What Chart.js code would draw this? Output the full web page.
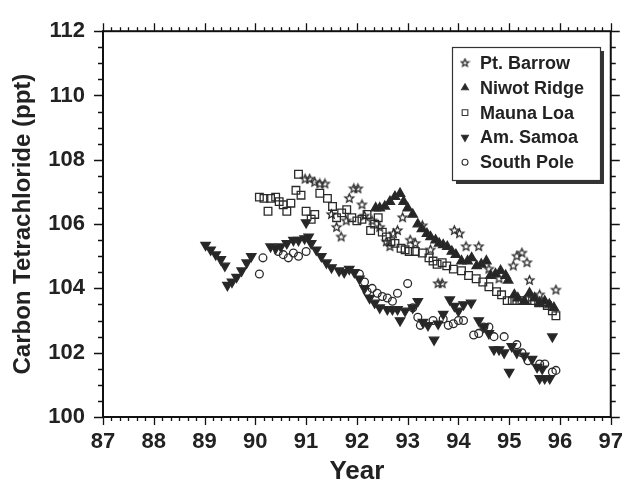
<!DOCTYPE html>
<html>
<head>
<meta charset="utf-8">
<script src="https://cdn.jsdelivr.net/npm/chart.js@4.4.1/dist/chart.umd.min.js"></script>
<style>
  html, body { margin: 0; padding: 0; background: #fff; }
</style>
</head>
<body>
<canvas id="chart" width="635" height="487"></canvas>
<script>
// --- data (year, ppt) ---
const barrowX = [90.98, 91.07, 91.17, 91.27, 91.37, 91.5, 91.6, 91.69, 91.79, 91.85, 91.94, 92.02, 92.1, 92.15, 92.3, 92.45, 92.58, 92.65, 92.72, 92.8, 92.9, 93.05, 93.15, 93.29, 93.45, 93.6, 93.68, 93.92, 94.02, 94.15, 94.4, 94.6, 94.8, 95.08, 95.15, 95.25, 95.35, 95.4, 95.6, 95.92];
const barrowY = [107.4, 107.4, 107.3, 107.25, 107.25, 106.3, 105.9, 105.6, 106.1, 106.8, 107.1, 107.1, 106.6, 106.25, 106.1, 105.9, 105.45, 105.3, 105.7, 105.8, 106.2, 105.5, 105.4, 105.95, 105.2, 104.15, 104.15, 105.8, 105.7, 105.3, 105.3, 104.6, 104.3, 104.7, 105.0, 105.1, 104.8, 104.25, 103.8, 103.95];

const niwotX = [92.37, 92.45, 92.55, 92.65, 92.75, 92.85, 92.92, 93.0, 93.1, 93.2, 93.28, 93.38, 93.45, 93.55, 93.62, 93.7, 93.78, 93.87, 93.95, 94.06, 94.18, 94.26, 94.36, 94.45, 94.55, 94.63, 94.73, 94.83, 94.93, 94.98, 95.1, 95.17, 95.3, 95.4, 95.5, 95.6, 95.7, 95.79, 95.88];
const niwotY = [106.5, 106.5, 106.55, 106.7, 106.85, 106.95, 106.7, 106.5, 106.3, 106.0, 105.85, 105.7, 105.6, 105.5, 105.4, 105.35, 105.3, 105.15, 105.05, 104.85, 104.85, 104.95, 104.7, 104.75, 104.85, 104.4, 104.45, 104.55, 104.4, 104.25, 103.8, 103.7, 103.6, 103.85, 103.7, 103.55, 103.6, 103.5, 103.4];

const maunaX = [90.08, 90.17, 90.25, 90.3, 90.4, 90.47, 90.55, 90.62, 90.7, 90.8, 90.85, 90.9, 91.0, 91.1, 91.17, 91.27, 91.42, 91.52, 91.6, 91.7, 91.8, 91.9, 92.0, 92.1, 92.2, 92.27, 92.35, 92.42, 92.5, 92.58, 92.67, 92.75, 92.87, 92.95, 93.03, 93.15, 93.29, 93.42, 93.5, 93.58, 93.68, 93.77, 93.9, 94.06, 94.2, 94.35, 94.48, 94.6, 94.75, 94.85, 94.96, 95.06, 95.15, 95.25, 95.35, 95.46, 95.58, 95.75, 95.85, 95.92];
const maunaY = [106.84, 106.8, 106.4, 106.8, 106.84, 106.7, 106.6, 106.4, 106.65, 107.05, 107.55, 106.9, 106.4, 106.15, 106.3, 106.96, 106.8, 106.55, 106.2, 106.35, 106.45, 106.2, 106.1, 106.15, 106.3, 105.8, 106.0, 106.2, 105.75, 105.6, 105.45, 105.4, 105.25, 105.2, 105.15, 105.15, 105.1, 104.95, 104.85, 104.75, 104.8, 104.7, 104.6, 104.55, 104.4, 104.3, 104.2, 104.05, 103.9, 103.8, 103.62, 103.62, 103.62, 103.62, 103.62, 103.62, 103.55, 103.47, 103.3, 103.15];

const samoaX = [89.02, 89.12, 89.22, 89.32, 89.4, 89.45, 89.54, 89.63, 89.73, 89.83, 89.92, 90.3, 90.4, 90.5, 90.62, 90.75, 90.85, 90.97, 91.05, 91.0, 91.1, 91.2, 91.3, 91.4, 91.5, 91.65, 91.75, 91.85, 91.95, 92.05, 92.15, 92.25, 92.35, 92.45, 92.6, 92.7, 92.8, 92.85, 92.95, 93.1, 93.2, 93.3, 93.4, 93.52, 93.6, 93.7, 93.83, 93.92, 94.0, 94.1, 94.25, 94.4, 94.5, 94.6, 94.7, 94.8, 94.9, 95.0, 95.05, 95.15, 95.3, 95.45, 95.55, 95.65, 95.6, 95.7, 95.8, 95.85];
const samoaY = [105.35, 105.2, 105.05, 104.9, 104.7, 104.1, 104.2, 104.35, 104.55, 104.8, 105.0, 105.3, 105.25, 105.3, 105.4, 105.5, 105.5, 105.55, 105.6, 106.05, 105.4, 105.2, 105.0, 104.8, 104.65, 104.55, 104.5, 104.6, 104.5, 104.3, 104.0, 103.7, 103.55, 103.4, 103.35, 103.35, 103.35, 103.0, 103.3, 103.4, 103.6, 102.95, 102.85, 102.4, 102.9, 103.2, 103.65, 103.45, 103.3, 103.5, 103.55, 103.0, 102.8, 102.6, 102.1, 102.1, 102.0, 101.4, 102.2, 102.0, 101.9, 101.8, 101.55, 101.5, 101.2, 101.2, 101.2, 102.5];

const poleX = [90.08, 90.15, 90.45, 90.55, 90.65, 90.75, 90.85, 91.0, 92.05, 92.15, 92.2, 92.3, 92.4, 92.5, 92.6, 92.7, 92.8, 93.0, 93.1, 93.2, 93.25, 93.5, 93.7, 93.8, 93.9, 94.0, 94.1, 94.3, 94.4, 94.5, 94.6, 94.7, 94.9, 95.15, 95.25, 95.37, 95.6, 95.7, 95.85, 95.92];
const poleY = [104.45, 104.95, 105.15, 105.05, 104.95, 105.1, 105.0, 105.15, 104.45, 104.2, 103.9, 104.0, 103.85, 103.75, 103.7, 103.6, 103.85, 104.15, 103.4, 103.1, 102.85, 103.0, 103.05, 102.85, 102.9, 103.0, 103.0, 102.55, 102.6, 102.8, 102.8, 102.5, 102.5, 102.25, 102.0, 101.75, 101.65, 101.65, 101.4, 101.45];

const xTicks = [87, 88, 89, 90, 91, 92, 93, 94, 95, 96, 97];
const yTicks = [100, 102, 104, 106, 108, 110, 112];

const INK = '#222';
const FONT = '"Liberation Sans", Arial, sans-serif';

function pts(xs, ys) {
  return xs.map((x, i) => ({ x: x, y: ys[i] }));
}

// five pointed open star
function starImg(r) {
  const c = document.createElement('canvas');
  const s = Math.ceil(r * 2 + 3);
  c.width = c.height = s;
  const g = c.getContext('2d');
  g.beginPath();
  for (let i = 0; i < 10; i++) {
    const a = -Math.PI / 2 + i * Math.PI / 5;
    const rr = i % 2 ? r * 0.45 : r;
    g.lineTo(s / 2 + rr * Math.cos(a), s / 2 + rr * Math.sin(a));
  }
  g.closePath();
  g.strokeStyle = '#2a2a2a';
  g.lineWidth = 1.3;
  g.stroke();
  return c;
}
const star = starImg(4.6);
const starSmall = starImg(4);

const series = [
  { label: 'Pt. Barrow', data: pts(barrowX, barrowY), pointStyle: star, pointRadius: 4.6, rot: 0, fill: 'rgba(0,0,0,0)' },
  { label: 'Niwot Ridge', data: pts(niwotX, niwotY), pointStyle: 'triangle', pointRadius: 5.4, rot: 0, fill: '#262626' },
  { label: 'Mauna Loa', data: pts(maunaX, maunaY), pointStyle: 'rect', pointRadius: 5.4, rot: 0, fill: 'rgba(0,0,0,0)' },
  { label: 'Am. Samoa', data: pts(samoaX, samoaY), pointStyle: 'triangle', pointRadius: 5.4, rot: 180, fill: '#262626' },
  { label: 'South Pole', data: pts(poleX, poleY), pointStyle: 'circle', pointRadius: 3.9, rot: 0, fill: 'rgba(0,0,0,0)' }
];

// frame, outward ticks, boxed legend with shadow
const framePlugin = {
  id: 'frame',
  afterDraw(chart) {
    const ctx = chart.ctx;
    const a = chart.chartArea;
    const xs = chart.scales.x, ys = chart.scales.y;
    ctx.save();
    ctx.strokeStyle = '#111';
    ctx.lineWidth = 2;
    ctx.strokeRect(a.left, a.top, a.right - a.left, a.bottom - a.top);

    ctx.lineWidth = 1.3;
    ctx.beginPath();
    for (let i = 0; i <= 60; i++) {
      const v = 87 + i / 6;
      const px = Math.round(xs.getPixelForValue(v)) + 0.5;
      const len = i % 6 === 0 ? 8 : 4;
      ctx.moveTo(px, a.bottom); ctx.lineTo(px, a.bottom + len);
      ctx.moveTo(px, a.top); ctx.lineTo(px, a.top - len);
    }
    for (let i = 0; i <= 24; i++) {
      const v = 100 + i * 0.5;
      const py = Math.round(ys.getPixelForValue(v)) + 0.5;
      const len = i % 4 === 0 ? 9 : 5;
      ctx.moveTo(a.left, py); ctx.lineTo(a.left - len, py);
      ctx.moveTo(a.right, py); ctx.lineTo(a.right + len, py);
    }
    ctx.stroke();

    // legend
    const bx = 452, by = 47, bw = 148, bh = 133;
    ctx.fillStyle = '#333';
    ctx.fillRect(bx + 4, by + 4, bw, bh);
    ctx.fillStyle = '#fff';
    ctx.fillRect(bx, by, bw, bh);
    ctx.strokeStyle = '#333';
    ctx.lineWidth = 1.2;
    ctx.strokeRect(bx + 0.5, by + 0.5, bw, bh);
    ctx.font = 'bold 18px ' + FONT;
    ctx.textBaseline = 'middle';
    series.forEach((s, i) => {
      const cy = 63 + i * 24.8;
      ctx.fillStyle = s.fill;
      ctx.strokeStyle = '#333';
      ctx.lineWidth = 1.1;
      const style = s.pointStyle === star ? starSmall : s.pointStyle;
      Chart.helpers.drawPoint(ctx, { pointStyle: style, rotation: s.rot, radius: s.pointStyle === 'circle' ? 3 : 4, borderWidth: 1.1 }, 465, cy);
      ctx.fillStyle = INK;
      ctx.fillText(s.label, 480, cy + 1);
    });
    ctx.restore();
  }
};

new Chart(document.getElementById('chart'), {
  type: 'scatter',
  data: {
    datasets: series.map(s => ({
      label: s.label,
      data: s.data,
      pointStyle: s.pointStyle,
      pointRadius: s.pointRadius,
      pointRotation: s.rot,
      pointBackgroundColor: s.fill,
      pointBorderColor: '#2a2a2a',
      pointBorderWidth: 1.3
    }))
  },
  options: {
    responsive: false,
    animation: false,
    layout: { padding: { top: 22, right: 12, left: 0, bottom: 0 } },
    plugins: { legend: { display: false }, tooltip: { enabled: false } },
    scales: {
      x: {
        type: 'linear',
        min: 87, max: 97,
        afterBuildTicks: s => { s.ticks = xTicks.map(v => ({ value: v })); },
        afterFit: s => { s.height = 70; },
        grid: { display: false, drawTicks: false },
        border: { display: false },
        ticks: { color: INK, padding: 12, maxRotation: 0, font: { family: FONT, size: 22, weight: 'bold' } },
        title: { display: true, text: 'Year', color: INK, padding: { top: 0, bottom: 0 }, font: { family: FONT, size: 26, weight: 'bold' } }
      },
      y: {
        type: 'linear',
        min: 100, max: 112,
        afterBuildTicks: s => { s.ticks = yTicks.map(v => ({ value: v })); },
        afterFit: s => { s.width = 103; },
        grid: { display: false, drawTicks: false },
        border: { display: false },
        ticks: { color: INK, padding: 18, font: { family: FONT, size: 22, weight: 'bold' } },
        title: { display: true, text: 'Carbon Tetrachloride (ppt)', color: INK, padding: { top: 9, bottom: 0 }, font: { family: FONT, size: 24, weight: 'bold' } }
      }
    }
  },
  plugins: [framePlugin]
});
</script>
</body>
</html>
